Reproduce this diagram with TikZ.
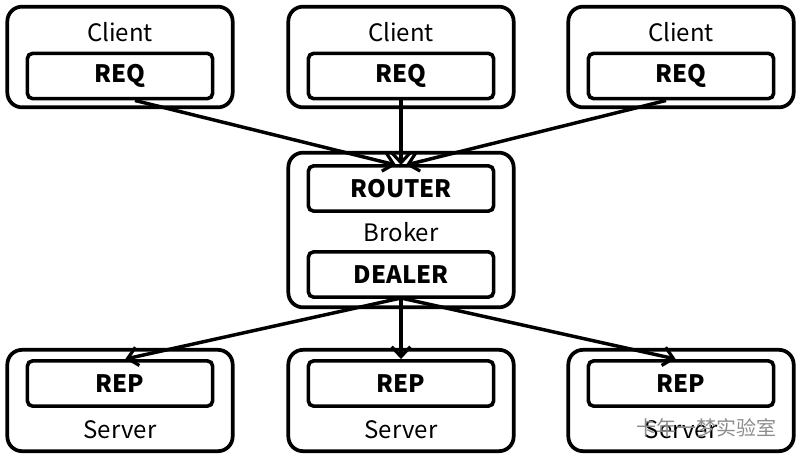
\documentclass[tikz,border=0pt]{standalone}
\usepackage{fontspec}
\setmainfont{Noto Sans CJK KR}
\newfontfamily\cjkfont{Noto Sans CJK SC}
\usetikzlibrary{arrows.meta}
\begin{document}
\begin{tikzpicture}[x=0.75pt,y=-0.75pt,
  outerbox/.style={draw,line width=2.8pt,rounded corners=11pt,minimum width=169pt,inner sep=0pt},
  innerbox/.style={draw,line width=2.7pt,rounded corners=4pt,minimum width=139pt,minimum height=34pt,font=\fontsize{18}{18}\selectfont\bfseries,inner sep=0pt},
  lbl/.style={font=\fontsize{18}{18}\selectfont,inner sep=0pt},
  conn/.style={line width=2.6pt,-{Straight Barb[length=7.5pt,width=14pt,line width=2.4pt]}}]
\useasboundingbox (0,0) rectangle (803,461);
% clients
\foreach \i/\cx in {1/120,2/401,3/681}{
  \node[outerbox,minimum height=75.5pt] (c\i) at (\cx,57) {};
  \node[lbl] (ct\i) at (\cx,32) {Client};
  \node[innerbox] (req\i) at (\cx,76) {REQ};
}
% broker
\node[outerbox,minimum height=116pt] (broker) at (401,230) {};
\node[innerbox] (router) at (401,188.5) {ROUTER};
\node[lbl] (bt) at (401,232) {Broker};
\node[innerbox] (dealer) at (401,274.5) {DEALER};
% servers
\foreach \i/\cx in {1/120,2/401,3/681}{
  \node[outerbox,minimum height=76pt] (s\i) at (\cx,400.5) {};
  \node[innerbox] (rep\i) at (\cx,383.5) {REP};
  \node[lbl] (st\i) at (\cx,430) {Server};
}
\coordinate (rin1) at (396,165);
\coordinate (rin2) at (401,165);
\coordinate (rin3) at (406,165);
\draw[conn] (req1.south) ++(15,0) coordinate (q1) -- (rin1);
\draw[conn] (req2.south) -- (rin2);
\draw[conn] (req3.south) ++(-15,0) coordinate (q3) -- (rin3);
\coordinate (dout) at (401,298);
\draw[conn] (dout) -- ([xshift=4pt]rep1.north);
\draw[conn] (dout) -- (rep2.north);
\draw[conn] (dout) -- ([xshift=-4pt]rep3.north);
\node[font=\cjkfont\fontsize{15}{15}\selectfont,text=black!45,inner sep=0pt] (wm) at (706,428) {卡年一梦实验室};
\end{tikzpicture}
\end{document}
